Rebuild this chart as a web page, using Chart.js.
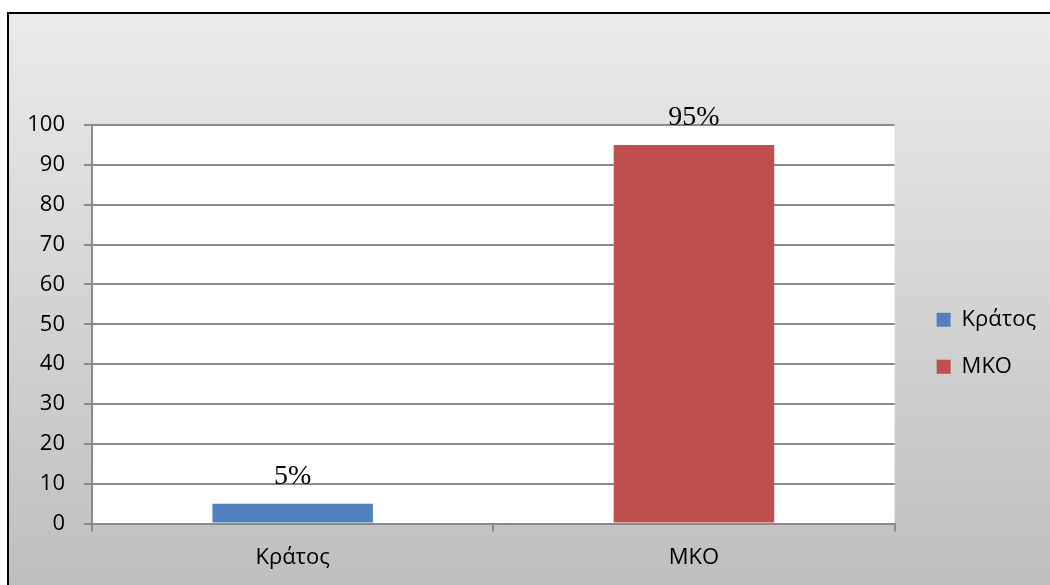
<!DOCTYPE html>
<html>
<head>
<meta charset="utf-8">
<script src="https://cdn.jsdelivr.net/npm/chart.js@4.4.1/dist/chart.umd.min.js"></script>
<style>
  html, body { margin: 0; padding: 0; background: #fff; }
  body { width: 1050px; height: 585px; position: relative; overflow: hidden; }
  #frame {
    position: absolute; left: 7px; top: 12px; width: 1060px; height: 590px;
    border-left: 2px solid #000; border-top: 2px solid #000;
    background: linear-gradient(#eaeaea, #bdbdbd);
  }
  #wrap { position: absolute; left: 0; top: 0; width: 1050px; height: 585px; }
</style>
</head>
<body>
<div id="frame"></div>
<div id="wrap"><canvas id="chart" width="1050" height="585"></canvas></div>
<script>
const categories = ["Κράτος", "ΜΚΟ"];
const values = [5, 95];
const valueLabels = ["5%", "95%"];
const barColors = ["#4f81bd", "#c0504d"];
const yTicks = { min: 0, max: 100, step: 10 };

const gridColor = "#8a8a8a";
const axisFont = { family: "'Open Sans', sans-serif", size: 22 };
const legendFont = { family: "'Open Sans', sans-serif", size: 22 };

// white plot area behind the bars
const plotBackground = {
  id: "plotBackground",
  beforeDraw(chart) {
    const { ctx, chartArea } = chart;
    ctx.save();
    ctx.fillStyle = "#ffffff";
    ctx.fillRect(chartArea.left, chartArea.top, chartArea.right - chartArea.left, chartArea.bottom - chartArea.top);
    ctx.restore();
  },
};

// percent labels over each bar
const barLabels = {
  id: "barLabels",
  afterDatasetsDraw(chart) {
    const { ctx } = chart;
    const meta = chart.getDatasetMeta(0);
    ctx.save();
    ctx.font = "28px 'Liberation Serif', 'Times New Roman', serif";
    ctx.fillStyle = "#000";
    ctx.textAlign = "center";
    ctx.textBaseline = "middle";
    meta.data.forEach((bar, i) => {
      ctx.fillText(valueLabels[i], bar.x, bar.y - 27);
    });
    ctx.restore();
  },
};

new Chart(document.querySelector("#chart"), {
  type: "bar",
  data: {
    labels: categories,
    datasets: [
      {
        data: values,
        backgroundColor: barColors,
        categoryPercentage: 1,
        barPercentage: 0.4,
      },
    ],
  },
  options: {
    responsive: false,
    animation: false,
    layout: { padding: { top: 125, bottom: 1, left: 0, right: 4 } },
    plugins: {
      tooltip: { enabled: false },
      legend: {
        position: "right",
        fullSize: false,
        onClick: null,
        // empty title only used as a spacer to push the items down
        title: { display: true, text: "", font: { size: 10 }, padding: 13 },
        labels: {
          boxWidth: 14,
          boxHeight: 14,
          padding: 25,
          color: "#000",
          font: legendFont,
          generateLabels: () =>
            categories.map((name, i) => ({
              text: name,
              fillStyle: barColors[i],
              strokeStyle: barColors[i],
              fontColor: "#000",
              lineWidth: 0,
              index: i,
            })),
        },
      },
    },
    scales: {
      x: {
        grid: { offset: true, drawOnChartArea: false, drawTicks: true, tickLength: 8, color: gridColor, lineWidth: 2 },
        border: { color: gridColor, width: 2 },
        ticks: { color: "#000", font: axisFont, padding: 13 },
      },
      y: {
        min: yTicks.min,
        max: yTicks.max,
        afterFit: (scale) => { scale.width = 92; },
        grid: { color: gridColor, lineWidth: 2, tickLength: 8 },
        border: { color: gridColor, width: 2 },
        ticks: { stepSize: yTicks.step, color: "#000", font: axisFont, padding: 19 },
      },
      gap: {
        position: "right",
        display: true,
        afterFit: (scale) => { scale.width = 17; },
        grid: { drawOnChartArea: false, drawTicks: false },
        border: { display: false },
        ticks: { display: false },
      },
    },
  },
  plugins: [plotBackground, barLabels],
});
</script>
</body>
</html>
